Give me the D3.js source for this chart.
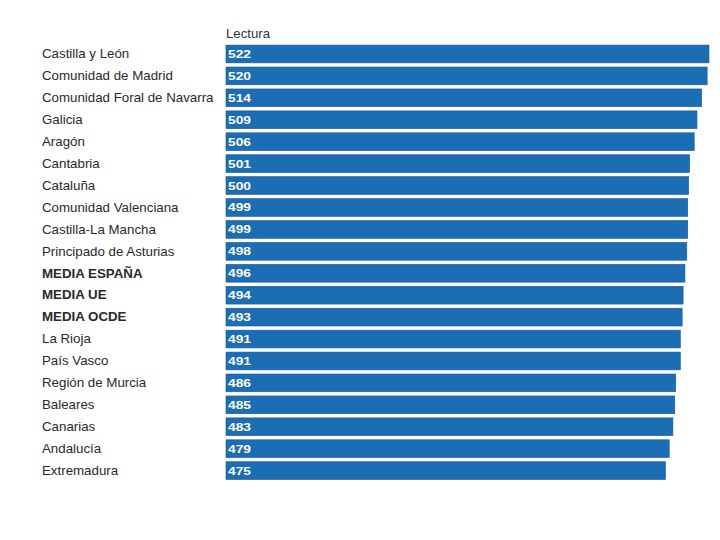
<!DOCTYPE html>
<html><head><meta charset="utf-8">
<script src="https://cdn.jsdelivr.net/npm/d3@7"></script>
<style>body{margin:0;background:#fff}svg{display:block}</style>
</head><body>
<script>
const categories = ["Castilla y León","Comunidad de Madrid","Comunidad Foral de Navarra","Galicia","Aragón","Cantabria","Cataluña","Comunidad Valenciana","Castilla-La Mancha","Principado de Asturias","MEDIA ESPAÑA","MEDIA UE","MEDIA OCDE","La Rioja","País Vasco","Región de Murcia","Baleares","Canarias","Andalucía","Extremadura"];
const values = [522,520,514,509,506,501,500,499,499,498,496,494,493,491,491,486,485,483,479,475];
const boldRows = ["MEDIA ESPAÑA","MEDIA UE","MEDIA OCDE"];
const header = "Lectura";

const W = 720, H = 540;
const svg = d3.select("body").append("svg").attr("width", W).attr("height", H);
const x = d3.scaleLinear().domain([0, 522]).range([226, 709]);
const y = d3.scaleBand().domain(categories).range([44, 480.6]).paddingInner(0.19).paddingOuter(0.05);

svg.append("text").attr("transform", `translate(226,38) scale(1.1,1)`)
  .attr("font-family", "Liberation Sans, Arial, sans-serif").attr("font-size", 12).attr("fill", "#333").text(header);

const rows = svg.selectAll("g.row").data(categories).join("g").attr("class","row");
rows.append("rect")
  .attr("x", x(0)).attr("y", d => y(d)).attr("height", y.bandwidth())
  .attr("width", (d,i) => x(values[i]) - x(0))
  .attr("fill", "#1b6db4").attr("stroke", "#15599a").attr("stroke-width", 0.6);
rows.append("text")
  .attr("transform", d => `translate(42,${y(d) + y.bandwidth()/2 + 4.3}) scale(1.11,1)`)
  .attr("font-family", "Liberation Sans, Arial, sans-serif").attr("font-size", 12)
  .attr("font-weight", d => boldRows.includes(d) ? "bold" : "normal")
  .attr("fill", "#2a2a2a").text(d => d);
rows.append("text")
  .attr("transform", d => `translate(228,${y(d) + y.bandwidth()/2 + 4}) scale(1.25,1)`)
  .attr("font-family", "Liberation Sans, Arial, sans-serif").attr("font-size", 11).attr("font-weight","bold")
  .attr("fill", "#fff").text((d,i) => values[i]);
</script>
</body></html>
